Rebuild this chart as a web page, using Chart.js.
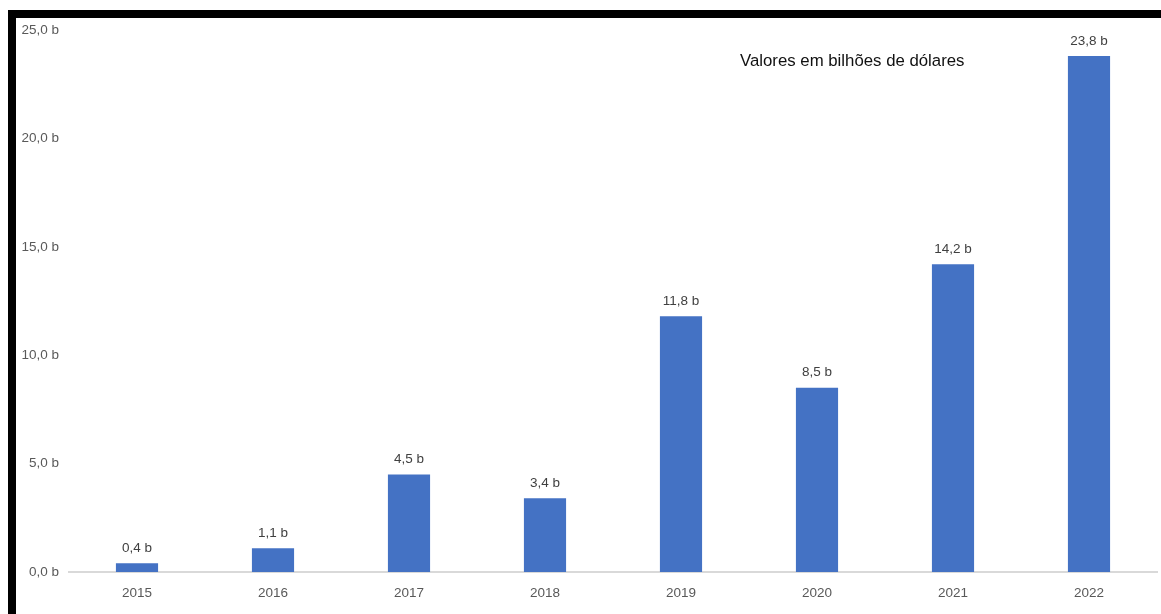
<!DOCTYPE html>
<html>
<head>
<meta charset="utf-8">
<script src="https://cdn.jsdelivr.net/npm/chart.js@4/dist/chart.umd.min.js"></script>
<style>
  html, body { margin: 0; padding: 0; background: #ffffff; width: 1161px; height: 614px; overflow: hidden; }
  #frame { position: absolute; left: 8px; top: 10px; width: 1153px; height: 604px;
           border-left: 8px solid #000; border-top: 8px solid #000; box-sizing: border-box; background: #fff; }
  #wrap { position: absolute; left: 0; top: 0; width: 1145px; height: 596px; }
</style>
</head>
<body>
<div id="frame"><div id="wrap"><canvas id="c" width="1145" height="596"></canvas></div></div>
<script>
const categories = ['2015', '2016', '2017', '2018', '2019', '2020', '2021', '2022'];
const values = [0.4, 1.1, 4.5, 3.4, 11.8, 8.5, 14.2, 23.8];
const valueLabels = ['0,4 b', '1,1 b', '4,5 b', '3,4 b', '11,8 b', '8,5 b', '14,2 b', '23,8 b'];
const yTickLabels = ['0,0 b', '5,0 b', '10,0 b', '15,0 b', '20,0 b', '25,0 b'];
const noteText = 'Valores em bilhões de dólares';

const FONT = '"Liberation Sans", Arial, sans-serif';

const labelPlugin = {
  id: 'barLabels',
  afterDatasetsDraw(chart) {
    const ctx = chart.ctx;
    const meta = chart.getDatasetMeta(0);
    ctx.save();
    ctx.font = '13.5px ' + FONT;
    ctx.fillStyle = '#404040';
    ctx.textAlign = 'center';
    ctx.textBaseline = 'middle';
    meta.data.forEach((bar, i) => {
      ctx.fillText(valueLabels[i], bar.x, bar.y - 15);
    });
    ctx.font = '16.8px ' + FONT;
    ctx.fillStyle = '#111';
    ctx.textAlign = 'left';
    const xs = chart.scales.x;
    const ys = chart.scales.y;
    ctx.fillText(noteText, xs.left + 671, ys.top + 31);
    ctx.restore();
  }
};

new Chart(document.getElementById('c'), {
  type: 'bar',
  data: {
    labels: categories,
    datasets: [{
      data: values,
      backgroundColor: '#4472C4',
      borderWidth: 0,
      barPercentage: 0.31,
      categoryPercentage: 1.0
    }]
  },
  options: {
    responsive: false,
    animation: false,
    devicePixelRatio: 1,
    layout: { padding: { left: 0, right: 4, top: 12, bottom: 0 } },
    plugins: { legend: { display: false }, tooltip: { enabled: false }, title: { display: false } },
    scales: {
      x: {
        grid: { display: false, drawTicks: false },
        border: { display: true, color: '#d9d9d9', width: 2 },
        ticks: { color: '#595959', font: { family: FONT, size: 13.5 }, padding: 13, maxRotation: 0 },
        afterFit(scale) { scale.height = 42; scale.paddingLeft = 0; scale.paddingRight = 0; }
      },
      y: {
        min: 0, max: 25,
        grid: { display: false, drawTicks: false },
        border: { display: false },
        ticks: {
          stepSize: 5,
          color: '#595959',
          font: { family: FONT, size: 13.5 },
          padding: 10,
          callback: (v, i) => yTickLabels[i]
        },
        afterFit(scale) { scale.width = 53; scale.paddingTop = 0; scale.paddingBottom = 0; }
      }
    }
  },
  plugins: [labelPlugin]
});
</script>
</body>
</html>
